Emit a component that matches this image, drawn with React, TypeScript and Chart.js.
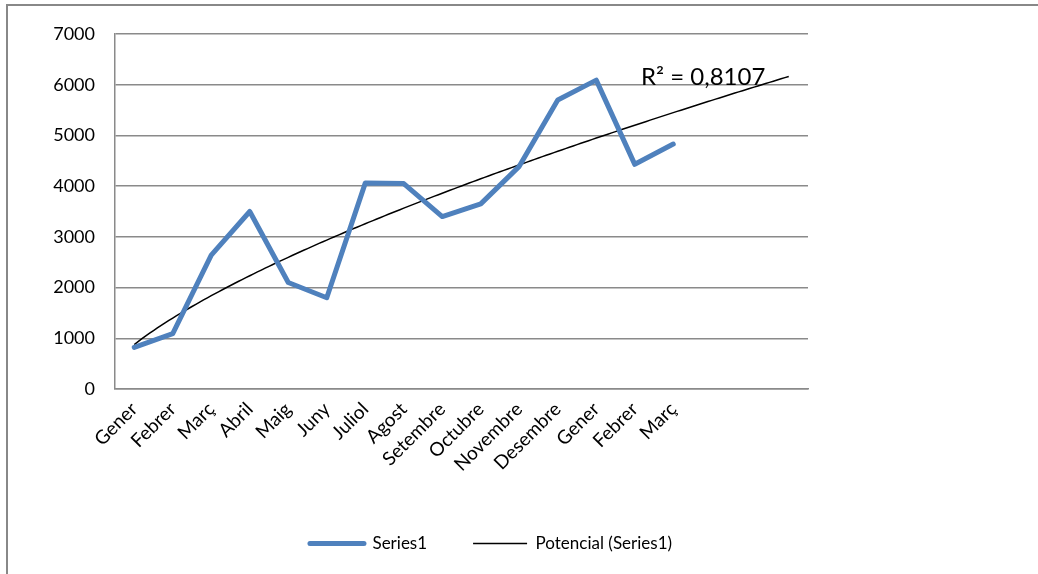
import React, { useEffect, useRef } from "react";
import { Chart, registerables } from "chart.js";

Chart.register(...registerables);

const categories = [
  "Gener", "Febrer", "Març", "Abril", "Maig", "Juny", "Juliol", "Agost",
  "Setembre", "Octubre", "Novembre", "Desembre", "Gener", "Febrer", "Març",
  "", "", "",
];
const series1 = [820, 1090, 2640, 3500, 2100, 1800, 4060, 4050, 3400, 3650, 4390, 5700, 6090, 4430, 4830];
const yTicks = [0, 1000, 2000, 3000, 4000, 5000, 6000, 7000];
const seriesLabel = "Series1";
const trendLabel = "Potencial (Series1)";
const r2Label = "R² = 0,8107";

// Power regression (y = a * x^b) fitted on the series, as the spreadsheet trendline does
function powerFit(vals: number[]) {
  const n = vals.length;
  let sx = 0, sy = 0, sxx = 0, sxy = 0;
  vals.forEach((v, i) => {
    const lx = Math.log(i + 1);
    const ly = Math.log(v);
    sx += lx; sy += ly; sxx += lx * lx; sxy += lx * ly;
  });
  const b = (n * sxy - sx * sy) / (n * sxx - sx * sx);
  const a = Math.exp((sy - b * sx) / n);
  return { a, b };
}
const fit = powerFit(series1);
const trendPoints: { x: number; y: number }[] = [];
for (let k = 0; k <= (categories.length - 1) * 10; k++) {
  const t = 1 + k / 10;
  trendPoints.push({ x: t - 1, y: fit.a * Math.pow(t, fit.b) });
}

const GRID = "#8a8a8a";

const r2Plugin = {
  id: "r2label",
  afterDatasetsDraw(chart: any) {
    const { ctx, chartArea } = chart;
    ctx.save();
    ctx.font = "24px Lato";
    ctx.fillStyle = "#000";
    ctx.textAlign = "left";
    ctx.textBaseline = "alphabetic";
    ctx.fillText(r2Label, chartArea.right - 167, chartArea.top + 51);
    ctx.restore();
  },
};

export default function App() {
  const ref = useRef<HTMLCanvasElement | null>(null);
  useEffect(() => {
    if (!ref.current) return;
    Chart.defaults.font.family = "Lato";
    const chart = new Chart(ref.current, {
      type: "line",
      data: {
        labels: categories,
        datasets: [
          {
            label: seriesLabel,
            data: series1,
            borderColor: "#4F81BD",
            backgroundColor: "#4F81BD",
            borderWidth: 5,
            borderJoinStyle: "round",
            borderCapStyle: "round",
            pointRadius: 0,
            tension: 0,
            xAxisID: "x",
            yAxisID: "y",
          },
          {
            label: trendLabel,
            data: trendPoints as any,
            borderColor: "#000000",
            backgroundColor: "#000000",
            borderWidth: 1.5,
            pointRadius: 0,
            tension: 0,
            xAxisID: "xt",
            yAxisID: "y",
          },
        ],
      },
      options: {
        animation: false,
        responsive: false,
        devicePixelRatio: 1,
        layout: { padding: { top: 34, left: 0, right: 0, bottom: 12 } },
        plugins: {
          tooltip: { enabled: false },
          legend: {
            position: "bottom",
            labels: {
              usePointStyle: true,
              pointStyleWidth: 54,
              padding: 46,
              color: "#000",
              font: { size: 17, family: "Lato" },
              generateLabels(chart: any) {
                return chart.data.datasets.map((ds: any, i: number) => ({
                  text: ds.label,
                  fillStyle: ds.borderColor,
                  strokeStyle: ds.borderColor,
                  lineWidth: ds.borderWidth,
                  lineCap: i === 0 ? "round" : "butt",
                  pointStyle: "line",
                  datasetIndex: i,
                  hidden: false,
                  fontColor: "#000",
                }));
              },
            },
          },
        },
        scales: {
          x: {
            type: "category",
            offset: true,
            grid: { display: false, drawTicks: false },
            border: { display: true, color: GRID, width: 1.5 },
            ticks: {
              autoSkip: false,
              minRotation: 45,
              maxRotation: 45,
              padding: 9,
              color: "#000",
              font: { size: 19, family: "Lato" },
            },
            afterFit(s: any) { s.height = 100; },
          },
          xt: {
            type: "linear",
            display: false,
            min: -0.5,
            max: categories.length - 0.5,
          },
          y: {
            type: "linear",
            position: "left",
            min: 0,
            max: 7000,
            afterBuildTicks(s: any) { s.ticks = yTicks.map((v) => ({ value: v })); },
            grid: { color: GRID, lineWidth: 1.5, drawTicks: false },
            border: { display: true, color: GRID, width: 1.5 },
            ticks: {
              padding: 20,
              color: "#000",
              font: { size: 18, family: "Lato" },
              callback: (v: any) => String(v),
            },
            afterFit(s: any) { s.width = 115; },
          },
          yr: {
            type: "linear",
            position: "right",
            grid: { display: false, drawTicks: false },
            border: { display: false },
            ticks: { display: false },
            afterFit(s: any) { s.width = 174; },
          },
        },
      },
      plugins: [r2Plugin],
    } as any);
    return () => chart.destroy();
  }, []);

  return (
    <div style={{ position: "absolute", left: 0, top: 0, width: 1038, height: 574, background: "#fff", overflow: "hidden" }}>
      <div
        style={{
          position: "absolute",
          left: 6,
          top: 4,
          width: 1100,
          height: 700,
          borderTop: "2px solid #888",
          borderLeft: "2px solid #888",
          boxSizing: "border-box",
        }}
      />
      <canvas ref={ref} width={982} height={574} style={{ position: "absolute", left: 0, top: 0, width: 982, height: 574 }} />
    </div>
  );
}
